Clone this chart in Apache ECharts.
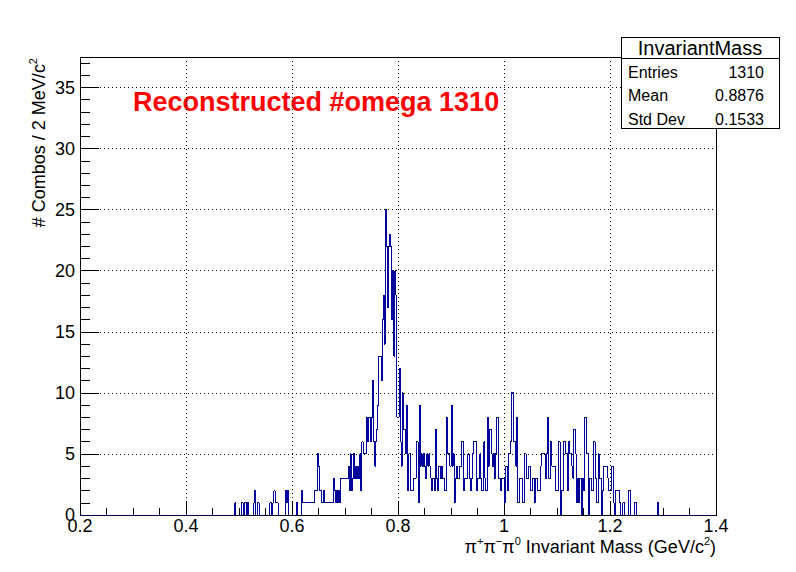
<!DOCTYPE html>
<html><head><meta charset="utf-8">
<script src="https://cdn.jsdelivr.net/npm/echarts@6/dist/echarts.min.js"></script>
<style>html,body{margin:0;padding:0;background:#fff}#c{width:796px;height:572px}
#c svg path, #c svg line, #c svg rect, #c svg polyline {shape-rendering: crispEdges;}</style>
</head><body><div id="c"></div>
<script>
// ---- data ----
const binWidth = 0.002;          // GeV per bin
const firstBinLow = 0.490;       // low edge of first listed bin
const axisMin = 0.2, axisMax = 1.4;
// counts per 2 MeV bin, 0.490 - 0.688
const countsA = [0,1,0,0,0,0,0,1,1,0, 1,1,0,1,0,0,0,0,0,1, 2,0,1,1,0,0,0,0,0,0, 0,0,0,0,1,1,0,1,2,1,
                 1,1,0,0,0,0,0,0,0,2, 1,2,0,0,0,0,0,0,0,1, 0,0,0,0,2,1,1,1,1,1, 1,1,1,1,1,1,2,2,2,5,
                 4,2,2,1,1,2,1,1,1,1, 1,1,1,1,3,2,1,2,1,2];
// 0.690 - 0.888
const countsB = [1,3,3,3,3,3,3,3,4,2, 5,2,3,5,3,4,3,4,3,5, 2,6,5,5,5,8,6,8,8,6, 8,11,6,4,6,7,9,13,13,11,
                 16,18,14,25,22,17,22,23,22,16, 20,13,20,18,8,8,12,6,4,10, 7,7,5,9,2,5,5,2,2,2, 3,3,6,6,1,9,4,5,4,5,
                 4,3,5,4,5,4,3,2,3,2, 7,3,2,4,4,3,4,3,3,2];
// 0.890 - 1.088
const countsC = [2,8,5,5,4,9,4,5,1,3, 4,3,3,4,4,6,6,2,3,3, 3,5,3,2,3,5,6,6,6,2, 3,3,5,3,2,2,6,3,2,8,
                 4,7,7,5,4,5,3,5,8,8, 3,3,2,3,3,1,4,4,2,5, 5,6,10,10,6,6,4,8,1,1, 3,3,1,1,5,5,3,3,4,4,
                 2,2,3,3,1,3,3,2,2,4, 5,5,5,5,3,5,8,3,3,6];
// 1.090 - 1.298
const countsD = [4,4,4,4,2,2,6,6,0,2, 2,6,6,5,5,2,6,5,5,4, 3,7,5,1,3,1,3,3,0,3, 2,8,8,5,5,0,3,3,2,6,
                 6,3,1,1,5,3,3,0,2,4, 4,4,4,3,2,2,4,4,1,0, 2,2,2,2,1,0,0,1,1,0, 0,0,2,2,0,0,0,0,1,1,
                 0,0,0,0,0,0,0,0,0,0, 0,0,0,0,0,0,0,0,0,0, 1,0,0,0,0];
const yMax = 37.5;
const titleText = 'Reconstructed #omega 1310';
const statsName = 'InvariantMass';
const statsLabels = ['Entries', 'Mean', 'Std Dev'];
const statsValues = ['1310', '0.8876', '0.1533'];

// ---- build histogram ----
const counts = countsA.concat(countsB, countsC, countsD);
const nBins = Math.round((axisMax - axisMin) / binWidth);
const offset = Math.round((firstBinLow - axisMin) / binWidth);
const full = new Array(nBins).fill(0);
counts.forEach((v, i) => { full[offset + i] = v; });
const histData = full.map((v, i) => [+(axisMin + i * binWidth).toFixed(4), v]);
histData.push([axisMax, 0]);

const FONT = 'Liberation Sans, Arial, Helvetica, sans-serif';
const chart = echarts.init(document.getElementById('c'), null, {renderer: 'svg'});

const txt = (extra) => Object.assign({fontFamily: FONT, fill: '#000'}, extra);

const option = {
  animation: false,
  backgroundColor: '#fff',
  grid: {left: 80, right: 80, top: 57, bottom: 57, show: true, borderColor: '#000', borderWidth: 1},
  xAxis: {
    type: 'value', min: axisMin, max: axisMax, interval: 0.2,
    axisLine: {show: true, onZero: false, lineStyle: {color: '#000', width: 1}},
    axisTick: {show: true, inside: true, length: 14, lineStyle: {color: '#000'}},
    minorTick: {show: true, splitNumber: 4, length: 7, lineStyle: {color: '#000'}},
    splitLine: {show: true, lineStyle: {color: '#000', width: 1, type: [1, 3]}},
    axisLabel: {color: '#000', fontFamily: FONT, fontSize: 18, margin: 2}
  },
  yAxis: [{
    type: 'value', min: 0, max: yMax, interval: 5,
    axisLine: {show: true, onZero: false, lineStyle: {color: '#000', width: 1}},
    axisTick: {show: true, inside: true, length: 19, lineStyle: {color: '#000'}},
    splitLine: {show: true, lineStyle: {color: '#000', width: 1, type: [1, 3]}},
    axisLabel: {color: '#000', fontFamily: FONT, fontSize: 18, margin: 5,
      formatter: v => (v % 5 === 0 ? String(v) : '')}
  }, {
    type: 'value', min: 0, max: yMax, interval: 1, position: 'left',
    axisLine: {show: false}, splitLine: {show: false}, axisLabel: {show: false},
    axisTick: {show: true, inside: true, length: 10, lineStyle: {color: '#000'}}
  }],
  series: [{
    type: 'line', step: 'end', data: histData, symbol: 'none', yAxisIndex: 0,
    lineStyle: {color: '#00009a', width: 1}, silent: true
  }],
  graphic: [
    {type: 'text', x: 133, y: 102, style: txt({text: titleText, fill: '#ff0000', fontSize: 27, fontWeight: 'bold', align: 'left', verticalAlign: 'middle'})},
    {type: 'text', x: 716, y: 547, style: txt({
      text: '{n|π}{s|+}{n|π}{s|−}{n|π}{s|0}{n| Invariant Mass (GeV/c}{s|2}{n|)}',
      align: 'right', verticalAlign: 'middle',
      rich: {n: {fontFamily: FONT, fontSize: 18, lineHeight: 24}, s: {fontFamily: FONT, fontSize: 11, verticalAlign: 'top'}}
    })},
    {type: 'text', x: 39, y: 58, rotation: Math.PI / 2, style: txt({
      text: '{n|# Combos / 2 MeV/c}{s|2}',
      align: 'right', verticalAlign: 'middle',
      rich: {n: {fontFamily: FONT, fontSize: 18, lineHeight: 24}, s: {fontFamily: FONT, fontSize: 11, verticalAlign: 'top'}}
    })},
    {type: 'rect', shape: {x: 621, y: 37, width: 158, height: 91}, style: {fill: '#fff', stroke: '#000', lineWidth: 1}, z: 10},
    {type: 'line', shape: {x1: 621, y1: 58, x2: 779, y2: 58}, style: {stroke: '#000', lineWidth: 1}, z: 11},
    {type: 'text', x: 700, y: 48, z: 12, style: txt({text: statsName, fontSize: 20, align: 'center', verticalAlign: 'middle'})},
    ...statsLabels.map((t, i) => ({type: 'text', x: 628, y: 72 + i * 23.5, z: 12, style: txt({text: t, fontSize: 16, align: 'left', verticalAlign: 'middle'})})),
    ...statsValues.map((t, i) => ({type: 'text', x: 764, y: 72 + i * 23.5, z: 12, style: txt({text: t, fontSize: 16, align: 'right', verticalAlign: 'middle'})}))
  ]
};
chart.setOption(option);
</script></body></html>
